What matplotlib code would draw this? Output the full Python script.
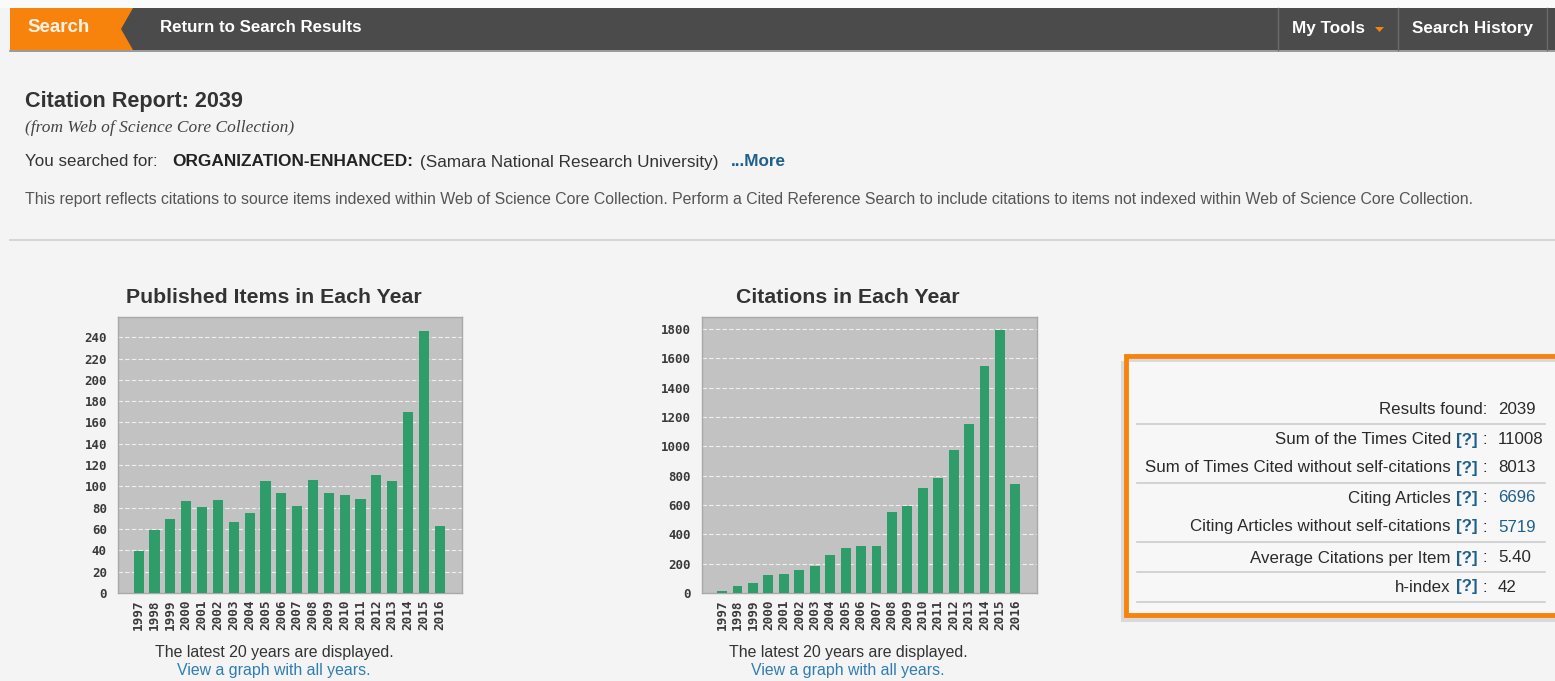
import matplotlib
matplotlib.use("Agg")
import matplotlib.pyplot as plt
from matplotlib.patches import Rectangle, Polygon
from matplotlib.lines import Line2D

W, H = 1555, 681

years = [str(y) for y in range(1997, 2017)]
published = [39, 59, 69, 86, 81, 87, 67, 75, 105, 94, 82, 106, 94, 92, 88, 111, 105, 170, 246, 63]
citations = [15, 45, 70, 120, 130, 160, 185, 260, 310, 320, 320, 555, 590, 715, 785, 975, 1150, 1545, 1795, 740]
pub_ticks = list(range(0, 241, 20))
cit_ticks = list(range(0, 1801, 200))

stat_labels = ["Results found:", "Sum of the Times Cited", "Sum of Times Cited without self-citations",
               "Citing Articles", "Citing Articles without self-citations",
               "Average Citations per Item", "h-index"]
stat_values = ["2039", "11008", "8013", "6696", "5719", "5.40", "42"]
stat_help = [False, True, True, True, True, True, True]
stat_link = [False, False, False, True, True, False, False]

SANS = "Liberation Sans"
BAR = "#2f9d69"
BLUE = "#1f5f8b"

fig = plt.figure(figsize=(W / 100, H / 100), dpi=100)
fig.patch.set_facecolor("#f4f4f4")


def P(x, y):
    return (x / W, 1 - y / H)


def txt(x, y, s, **kw):
    kw.setdefault("family", SANS)
    kw.setdefault("va", "center")
    fig.text(*P(x, y), s, **kw)


def rect(x0, y0, x1, y1, **kw):
    fig.patches.append(Rectangle(P(x0, y1), (x1 - x0) / W, (y1 - y0) / H,
                                 transform=fig.transFigure, **kw))


def hline(x0, x1, y, **kw):
    fig.lines.append(Line2D([x0 / W, x1 / W], [1 - y / H, 1 - y / H], transform=fig.transFigure, **kw))


def vline(x, y0, y1, **kw):
    fig.lines.append(Line2D([x / W, x / W], [1 - y0 / H, 1 - y1 / H], transform=fig.transFigure, **kw))


# top strip
rect(0, 0, W, 8, facecolor="#fafafa", edgecolor="none")
# navigation bar
rect(10, 8, W, 50, facecolor="#4b4b4b", edgecolor="none")
hline(10, W, 50.5, color="#8a8a8a", lw=1.2)
orange = Polygon([P(10, 8), P(133, 8), P(121, 29), P(133, 50), P(10, 50)], closed=True,
                 transform=fig.transFigure, facecolor="#f7830d", edgecolor="none")
fig.patches.append(orange)
txt(27, 28, "Search", color="#fff3e6", fontsize=13.5, fontweight="bold")
txt(160, 27, "Return to Search Results", color="white", fontsize=12.2, fontweight="bold")
vline(1278, 8, 50, color="#6a6a6a", lw=1)
vline(1398, 8, 50, color="#6a6a6a", lw=1)
vline(1547, 8, 50, color="#6a6a6a", lw=1)
txt(1292, 28, "My Tools", color="white", fontsize=12.3, fontweight="bold")
tri = Polygon([P(1375, 27), P(1384, 27), P(1379.5, 32)], closed=True, transform=fig.transFigure,
              facecolor="#f7830d", edgecolor="none")
fig.patches.append(tri)
txt(1412, 28, "Search History", color="white", fontsize=12.3, fontweight="bold")

# header text
txt(25, 101, "Citation Report: 2039", color="#333333", fontsize=15.6, fontweight="bold")
txt(25, 128, "(from Web of Science Core Collection)", color="#444444", fontsize=12.5,
    family="Liberation Serif", style="italic")
txt(25, 162, "You searched for:", color="#333333", fontsize=12.2)
txt(172, 162, "ORGANIZATION-ENHANCED:", color="#222222", fontsize=12.4, fontweight="bold")
txt(420, 162, "(Samara National Research University)", color="#333333", fontsize=12.3)
txt(731, 162, "...More", color=BLUE, fontsize=12.3, fontweight="bold")
txt(25, 199, "This report reflects citations to source items indexed within Web of Science Core Collection. "
             "Perform a Cited Reference Search to include citations to items not indexed within Web of Science Core Collection.",
    color="#555555", fontsize=11.45)
hline(10, W, 240, color="#cfcfcf", lw=1.2)


def bar_chart(left, right, top, bottom, values, ticks, ymax, title, cx):
    ax = fig.add_axes([left / W, 1 - bottom / H, (right - left) / W, (bottom - top) / H])
    ax.set_facecolor("#c2c2c2")
    x = list(range(len(values)))
    ax.bar(x, values, width=0.64, color=BAR, zorder=3)
    ax.set_xlim(-1.3, len(values) - 1 + 1.4)
    ax.set_ylim(0, ymax)
    ax.set_yticks(ticks)
    ax.set_yticklabels([str(t) for t in ticks], family="DejaVu Sans Mono", fontweight="bold",
                       fontsize=8.9, color="#3a3a3a")
    ax.set_xticks(x)
    ax.set_xticklabels(years, rotation=90, family="DejaVu Sans Mono", fontweight="bold",
                       fontsize=9.2, color="#3a3a3a")
    ax.tick_params(length=0, axis="y", pad=8)
    ax.tick_params(length=0, axis="x", pad=5)
    ax.grid(axis="y", color="white", linestyle=(0, (4, 2)), lw=0.8, alpha=0.75, zorder=1)
    for s in ax.spines.values():
        s.set_color("#a8a8a8")
        s.set_linewidth(1)
    txt(cx, 297, title, color="#333333", fontsize=15.3, fontweight="bold", ha="center")
    txt(cx, 653, "The latest 20 years are displayed.", color="#333333", fontsize=11.4, ha="center")
    txt(cx, 670, "View a graph with all years.", color="#2f7db3", fontsize=11.4, ha="center")
    return ax


bar_chart(118, 462, 317, 593, published, pub_ticks, 259, "Published Items in Each Year", 274)
bar_chart(702, 1037, 317, 593, citations, cit_ticks, 1882, "Citations in Each Year", 848)

# statistics box
rect(1121, 361, W + 10, 622, facecolor="#c8c8c8", edgecolor="none", alpha=0.6)
rect(1126, 356, W + 10, 615, facecolor="#f7f7f7", edgecolor="#f7830d", lw=3.5)
hline(1130, W, 360, color="#d8d8d8", lw=2)
row_y = [410, 440, 468, 498, 527, 558, 587]
line_y = {0: 424, 2: 483, 4: 542, 5: 572, 6: 602}
FS = 12.2
for i, (lab, val) in enumerate(zip(stat_labels, stat_values)):
    y = row_y[i]
    if stat_help[i]:
        txt(1478, y, "[?]", color=BLUE, fontsize=FS, fontweight="bold", ha="right")
        txt(1451, y, lab, color="#2a2a2a", fontsize=FS, ha="right")
        txt(1483, y, ":", color="#2a2a2a", fontsize=FS)
    else:
        txt(1487, y, lab, color="#2a2a2a", fontsize=FS, ha="right")
    txt(1498, y, val, color=BLUE if stat_link[i] else "#2a2a2a", fontsize=FS)
    if i in line_y:
        hline(1137, 1545, line_y[i], color="#cccccc", lw=1.2)

fig.savefig("out.png", dpi=100, facecolor=fig.get_facecolor())
